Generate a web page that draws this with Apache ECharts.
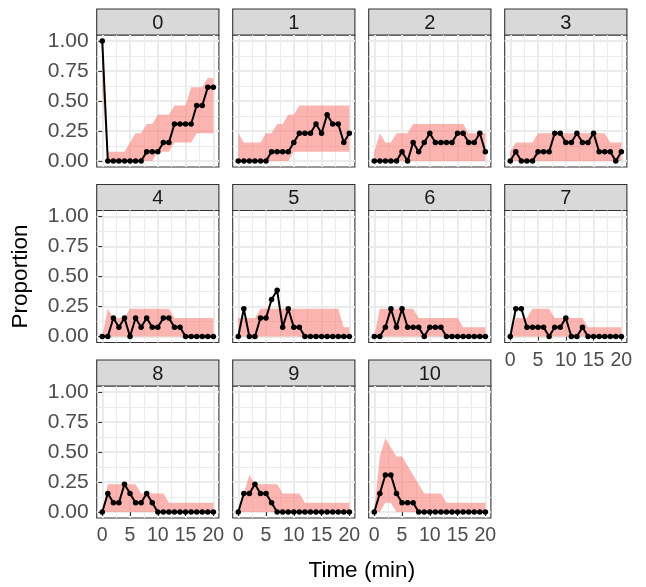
<!DOCTYPE html>
<html lang="en">
<head>
<meta charset="UTF-8">
<title>Proportion over time</title>
<script src="https://cdn.jsdelivr.net/npm/echarts@6/dist/echarts.min.js"></script>
<style>
  html, body { margin: 0; padding: 0; background: #fff; }
  #main { width: 646px; height: 587px; }
</style>
</head>
<body>
<div id="main"></div>
<script>
// facets and time points
const panelNames = ['0', '1', '2', '3', '4', '5', '6', '7', '8', '9', '10'];
const time = [0, 1, 2, 3, 4, 5, 6, 7, 8, 9, 10, 11, 12, 13, 14, 15, 16, 17, 18, 19, 20];

// observed proportion per facet (black line)
const observed = [
  [1, 0, 0, 0, 0, 0, 0, 0, 0.077, 0.077, 0.077, 0.154, 0.154, 0.308, 0.308, 0.308, 0.308, 0.462, 0.462, 0.615, 0.615],
  [0, 0, 0, 0, 0, 0, 0.077, 0.077, 0.077, 0.077, 0.154, 0.231, 0.231, 0.231, 0.308, 0.231, 0.385, 0.308, 0.308, 0.154, 0.231],
  [0, 0, 0, 0, 0, 0.077, 0, 0.154, 0.077, 0.154, 0.231, 0.154, 0.154, 0.154, 0.154, 0.231, 0.231, 0.154, 0.154, 0.231, 0.077],
  [0, 0.077, 0, 0, 0, 0.077, 0.077, 0.077, 0.231, 0.231, 0.154, 0.154, 0.231, 0.154, 0.154, 0.231, 0.077, 0.077, 0.077, 0, 0.077],
  [0, 0, 0.154, 0.077, 0.154, 0, 0.154, 0.077, 0.154, 0.077, 0.077, 0.154, 0.154, 0.077, 0.077, 0, 0, 0, 0, 0, 0],
  [0, 0.231, 0, 0, 0.154, 0.154, 0.308, 0.385, 0.077, 0.231, 0.077, 0.077, 0, 0, 0, 0, 0, 0, 0, 0, 0],
  [0, 0, 0.077, 0.231, 0.077, 0.231, 0.077, 0.077, 0.077, 0, 0.077, 0.077, 0.077, 0, 0, 0, 0, 0, 0, 0, 0],
  [0, 0.231, 0.231, 0.077, 0.077, 0.077, 0.077, 0, 0.077, 0.077, 0.154, 0, 0, 0.077, 0, 0, 0, 0, 0, 0, 0],
  [0, 0.154, 0.077, 0.077, 0.231, 0.154, 0.077, 0.077, 0.154, 0.077, 0, 0, 0, 0, 0, 0, 0, 0, 0, 0, 0],
  [0, 0.154, 0.154, 0.231, 0.154, 0.154, 0.077, 0, 0, 0, 0, 0, 0, 0, 0, 0, 0, 0, 0, 0, 0],
  [0, 0.154, 0.308, 0.308, 0.154, 0.077, 0.077, 0.077, 0, 0, 0, 0, 0, 0, 0, 0, 0, 0, 0, 0, 0]
];

// simulated band, lower edge
const lower = [
  [0.6, 0, 0, 0, 0, 0, 0, 0, 0, 0, 0.077, 0.077, 0.077, 0.154, 0.154, 0.154, 0.154, 0.231, 0.231, 0.231, 0.231],
  [0, 0, 0, 0, 0, 0, 0, 0, 0, 0, 0.077, 0.077, 0.077, 0.077, 0.077, 0.077, 0.077, 0.077, 0.077, 0.077, 0.077],
  [0, 0, 0, 0, 0, 0, 0, 0, 0, 0, 0, 0, 0, 0, 0, 0, 0, 0, 0, 0, 0],
  [0, 0, 0, 0, 0, 0, 0, 0, 0, 0, 0, 0, 0, 0, 0, 0, 0, 0, 0, 0, 0],
  [0, 0, 0, 0, 0, 0, 0, 0, 0, 0, 0, 0, 0, 0, 0, 0, 0, 0, 0, 0, 0],
  [0, 0, 0, 0, 0, 0, 0, 0, 0, 0, 0, 0, 0, 0, 0, 0, 0, 0, 0, 0, 0],
  [0, 0, 0, 0, 0, 0, 0, 0, 0, 0, 0, 0, 0, 0, 0, 0, 0, 0, 0, 0, 0],
  [0, 0, 0, 0, 0, 0, 0, 0, 0, 0, 0, 0, 0, 0, 0, 0, 0, 0, 0, 0, 0],
  [0, 0, 0, 0, 0, 0, 0, 0, 0, 0, 0, 0, 0, 0, 0, 0, 0, 0, 0, 0, 0],
  [0, 0, 0, 0, 0, 0, 0, 0, 0, 0, 0, 0, 0, 0, 0, 0, 0, 0, 0, 0, 0],
  [0, 0, 0.077, 0.077, 0, 0, 0, 0, 0, 0, 0, 0, 0, 0, 0, 0, 0, 0, 0, 0, 0]
];

// simulated band, upper edge
const upper = [
  [1, 0.077, 0.077, 0.077, 0.077, 0.154, 0.231, 0.231, 0.308, 0.308, 0.385, 0.385, 0.385, 0.462, 0.462, 0.462, 0.615, 0.615, 0.615, 0.692, 0.692],
  [0.231, 0.154, 0.154, 0.154, 0.154, 0.231, 0.231, 0.308, 0.308, 0.385, 0.385, 0.462, 0.462, 0.462, 0.462, 0.462, 0.462, 0.462, 0.462, 0.462, 0.462],
  [0.077, 0.231, 0.154, 0.154, 0.231, 0.231, 0.231, 0.308, 0.308, 0.308, 0.308, 0.308, 0.308, 0.308, 0.308, 0.308, 0.308, 0.231, 0.231, 0.231, 0.231],
  [0.077, 0.154, 0.154, 0.154, 0.154, 0.231, 0.231, 0.231, 0.231, 0.231, 0.231, 0.231, 0.231, 0.231, 0.231, 0.231, 0.231, 0.231, 0.154, 0.154, 0.154],
  [0, 0.231, 0.154, 0.154, 0.154, 0.231, 0.231, 0.231, 0.231, 0.231, 0.231, 0.231, 0.231, 0.154, 0.154, 0.154, 0.154, 0.154, 0.154, 0.154, 0.154],
  [0.154, 0.154, 0.154, 0.154, 0.231, 0.231, 0.231, 0.231, 0.231, 0.231, 0.231, 0.231, 0.231, 0.231, 0.231, 0.231, 0.231, 0.231, 0.231, 0.077, 0.077],
  [0, 0.231, 0.231, 0.231, 0.231, 0.231, 0.231, 0.231, 0.154, 0.154, 0.154, 0.154, 0.154, 0.154, 0.154, 0.154, 0.077, 0.077, 0.077, 0.077, 0.077],
  [0, 0.154, 0.154, 0.154, 0.231, 0.231, 0.231, 0.231, 0.154, 0.154, 0.154, 0.154, 0.154, 0.154, 0.077, 0.077, 0.077, 0.077, 0.077, 0.077, 0.077],
  [0, 0.231, 0.231, 0.231, 0.231, 0.231, 0.231, 0.154, 0.154, 0.154, 0.154, 0.154, 0.077, 0.077, 0.077, 0.077, 0.077, 0.077, 0.077, 0.077, 0.077],
  [0, 0.154, 0.308, 0.231, 0.231, 0.231, 0.231, 0.231, 0.154, 0.154, 0.154, 0.154, 0.077, 0.077, 0.077, 0.077, 0.077, 0.077, 0.077, 0.077, 0.077],
  [0, 0.462, 0.615, 0.538, 0.462, 0.462, 0.385, 0.308, 0.231, 0.154, 0.154, 0.154, 0.154, 0.077, 0.077, 0.077, 0.077, 0.077, 0.077, 0.077, 0.077]
];

const xBreaks = [0, 5, 10, 15, 20];
const xMinor = [2.5, 7.5, 12.5, 17.5];
const yBreaks = [0, 0.25, 0.5, 0.75, 1];
const yMinor = [0.125, 0.375, 0.625, 0.875];

// layout (px)
const colX = [96.7, 232.7, 368.7, 504.7];
const rowY = [35, 210.5, 386];
const panelW = 122.2, panelH = 132, stripH = 26;
const FONT = '"Liberation Sans", Arial, sans-serif';
const gridCol = '#EBEBEB';
const ribbonCol = 'rgba(248,118,109,0.55)';

const grids = [], xAxes = [], yAxes = [], series = [], graphics = [];

panelNames.forEach(function (name, p) {
  const c = p % 4, r = Math.floor(p / 4);
  const showX = (p >= 7);
  const showY = (c === 0);

  grids.push({
    left: colX[c], top: rowY[r], width: panelW, height: panelH,
    show: true, backgroundColor: '#fff', borderColor: '#333333', borderWidth: 1.1,
    containLabel: false, outerBoundsMode: 'none'
  });

  // major x
  xAxes.push({
    gridIndex: p, type: 'value', min: -1, max: 21,
    axisLine: { show: false },
    axisTick: { show: showX, customValues: xBreaks, length: 4, lineStyle: { color: '#333', width: 1.1 } },
    axisLabel: { show: showX, customValues: xBreaks, showMinLabel: true, showMaxLabel: true,
      color: '#4D4D4D', fontSize: 19.5, fontFamily: FONT, margin: 8 },
    splitLine: { show: true, lineStyle: { color: gridCol, width: 1.9 } }
  });
  // minor x (grid lines only)
  xAxes.push({
    gridIndex: p, type: 'value', min: -1, max: 21,
    axisLine: { show: false },
    axisTick: { show: false, customValues: xMinor },
    axisLabel: { show: false },
    splitLine: { show: true, lineStyle: { color: gridCol, width: 1 } }
  });
  // major y
  yAxes.push({
    gridIndex: p, type: 'value', min: -0.05, max: 1.05,
    axisLine: { show: false },
    axisTick: { show: showY, customValues: yBreaks, length: 4, lineStyle: { color: '#333', width: 1.1 } },
    axisLabel: { show: showY, customValues: yBreaks, showMinLabel: true, showMaxLabel: true,
      color: '#4D4D4D', fontSize: 21, fontFamily: FONT, margin: 8,
      formatter: function (v) { return v.toFixed(2); } },
    splitLine: { show: true, lineStyle: { color: gridCol, width: 1.9 } }
  });
  // minor y
  yAxes.push({
    gridIndex: p, type: 'value', min: -0.05, max: 1.05,
    axisLine: { show: false },
    axisTick: { show: false, customValues: yMinor },
    axisLabel: { show: false },
    splitLine: { show: true, lineStyle: { color: gridCol, width: 1 } }
  });

  const xi = 2 * p, yi = 2 * p;

  // ribbon: polygon along upper edge, back along lower edge
  series.push({
    type: 'custom', xAxisIndex: xi, yAxisIndex: yi, silent: true, z: 1, clip: true,
    data: [[time[0], upper[p][0]]],
    renderItem: function (params, api) {
      const pts = [];
      for (let i = 0; i < time.length; i++) pts.push(api.coord([time[i], upper[p][i]]));
      for (let i = time.length - 1; i >= 0; i--) pts.push(api.coord([time[i], lower[p][i]]));
      return { type: 'polygon', shape: { points: pts }, style: { fill: ribbonCol } };
    }
  });
  series.push({
    type: 'line', xAxisIndex: xi, yAxisIndex: yi,
    data: time.map(function (t, i) { return [t, observed[p][i]]; }),
    symbol: 'circle', symbolSize: 5.5, showAllSymbol: true,
    itemStyle: { color: '#000' }, lineStyle: { color: '#000', width: 2 }, z: 3
  });

  // facet strip
  graphics.push({
    type: 'rect',
    shape: { x: colX[c], y: rowY[r] - stripH, width: panelW, height: stripH },
    style: { fill: '#D9D9D9', stroke: '#333333', lineWidth: 1.1 }
  });
  graphics.push({
    type: 'text',
    x: colX[c] + panelW / 2, y: rowY[r] - stripH / 2 + 1,
    style: { text: name, fill: '#1A1A1A', font: '20px ' + FONT, align: 'center', verticalAlign: 'middle' }
  });
});

// axis titles
graphics.push({
  type: 'text', x: (colX[0] + colX[3] + panelW) / 2, y: 571,
  style: { text: 'Time (min)', fill: '#000', font: '22.5px ' + FONT, align: 'center', verticalAlign: 'middle' }
});
graphics.push({
  type: 'text', x: 21, y: (rowY[0] + rowY[2] + panelH) / 2, rotation: Math.PI / 2,
  style: { text: 'Proportion', fill: '#000', font: '22.5px ' + FONT, align: 'center', verticalAlign: 'middle' }
});

const myChart = echarts.init(document.getElementById('main'));
myChart.setOption({
  animation: false,
  backgroundColor: '#fff',
  grid: grids,
  xAxis: xAxes,
  yAxis: yAxes,
  series: series,
  graphic: graphics
});
</script>
</body>
</html>
